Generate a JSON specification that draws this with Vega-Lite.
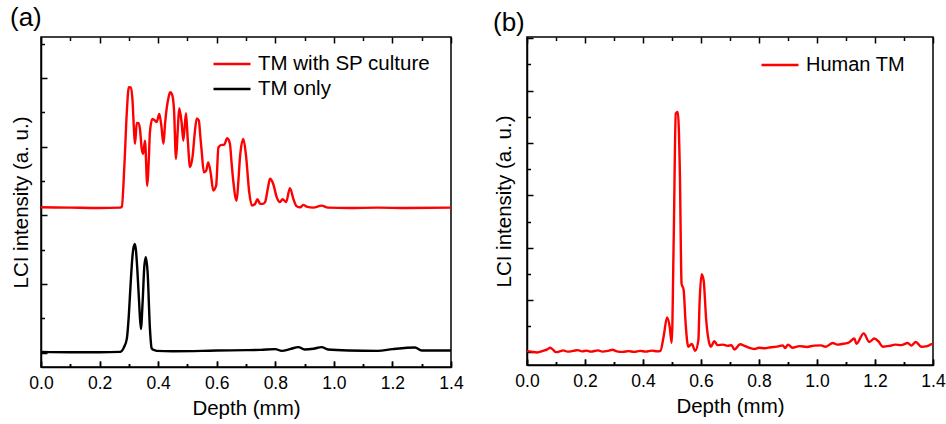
{
  "$schema": "https://vega.github.io/schema/vega-lite/v6.json",
  "background": "white",
  "padding": {"left": 9, "top": 4, "right": 5, "bottom": 5},
  "spacing": 28,
  "resolve": {"scale": {"color": "independent"}, "legend": {"color": "independent"}},
  "datasets": {
    "panelA": [
      {"depth": 0.0, "intensity": 4.23, "series": "TM with SP culture"},
      {"depth": 0.1, "intensity": 4.22, "series": "TM with SP culture"},
      {"depth": 0.2, "intensity": 4.21, "series": "TM with SP culture"},
      {"depth": 0.27, "intensity": 4.22, "series": "TM with SP culture"},
      {"depth": 0.276, "intensity": 4.25, "series": "TM with SP culture"},
      {"depth": 0.285, "intensity": 5.5, "series": "TM with SP culture"},
      {"depth": 0.293, "intensity": 7.0, "series": "TM with SP culture"},
      {"depth": 0.3, "intensity": 7.73, "series": "TM with SP culture"},
      {"depth": 0.306, "intensity": 7.72, "series": "TM with SP culture"},
      {"depth": 0.312, "intensity": 7.4, "series": "TM with SP culture"},
      {"depth": 0.318, "intensity": 6.4, "series": "TM with SP culture"},
      {"depth": 0.321, "intensity": 6.08, "series": "TM with SP culture"},
      {"depth": 0.327, "intensity": 6.69, "series": "TM with SP culture"},
      {"depth": 0.333, "intensity": 6.68, "series": "TM with SP culture"},
      {"depth": 0.338, "intensity": 6.5, "series": "TM with SP culture"},
      {"depth": 0.344, "intensity": 5.93, "series": "TM with SP culture"},
      {"depth": 0.349, "intensity": 5.79, "series": "TM with SP culture"},
      {"depth": 0.355, "intensity": 6.17, "series": "TM with SP culture"},
      {"depth": 0.363, "intensity": 4.86, "series": "TM with SP culture"},
      {"depth": 0.368, "intensity": 5.6, "series": "TM with SP culture"},
      {"depth": 0.372, "intensity": 6.42, "series": "TM with SP culture"},
      {"depth": 0.38, "intensity": 6.8, "series": "TM with SP culture"},
      {"depth": 0.389, "intensity": 6.76, "series": "TM with SP culture"},
      {"depth": 0.395, "intensity": 6.71, "series": "TM with SP culture"},
      {"depth": 0.404, "intensity": 6.95, "series": "TM with SP culture"},
      {"depth": 0.411, "intensity": 6.6, "series": "TM with SP culture"},
      {"depth": 0.418, "intensity": 6.08, "series": "TM with SP culture"},
      {"depth": 0.424, "intensity": 6.7, "series": "TM with SP culture"},
      {"depth": 0.429, "intensity": 7.1, "series": "TM with SP culture"},
      {"depth": 0.436, "intensity": 7.45, "series": "TM with SP culture"},
      {"depth": 0.441, "intensity": 7.58, "series": "TM with SP culture"},
      {"depth": 0.447, "intensity": 7.53, "series": "TM with SP culture"},
      {"depth": 0.454, "intensity": 7.1, "series": "TM with SP culture"},
      {"depth": 0.461, "intensity": 5.64, "series": "TM with SP culture"},
      {"depth": 0.467, "intensity": 6.5, "series": "TM with SP culture"},
      {"depth": 0.472, "intensity": 7.12, "series": "TM with SP culture"},
      {"depth": 0.48, "intensity": 6.71, "series": "TM with SP culture"},
      {"depth": 0.486, "intensity": 6.17, "series": "TM with SP culture"},
      {"depth": 0.495, "intensity": 6.97, "series": "TM with SP culture"},
      {"depth": 0.501, "intensity": 6.22, "series": "TM with SP culture"},
      {"depth": 0.509, "intensity": 5.4, "series": "TM with SP culture"},
      {"depth": 0.518, "intensity": 5.74, "series": "TM with SP culture"},
      {"depth": 0.525, "intensity": 6.4, "series": "TM with SP culture"},
      {"depth": 0.532, "intensity": 6.82, "series": "TM with SP culture"},
      {"depth": 0.539, "intensity": 6.76, "series": "TM with SP culture"},
      {"depth": 0.544, "intensity": 6.3, "series": "TM with SP culture"},
      {"depth": 0.549, "intensity": 5.83, "series": "TM with SP culture"},
      {"depth": 0.556, "intensity": 5.25, "series": "TM with SP culture"},
      {"depth": 0.564, "intensity": 5.3, "series": "TM with SP culture"},
      {"depth": 0.571, "intensity": 5.54, "series": "TM with SP culture"},
      {"depth": 0.58, "intensity": 5.2, "series": "TM with SP culture"},
      {"depth": 0.588, "intensity": 4.72, "series": "TM with SP culture"},
      {"depth": 0.598, "intensity": 4.86, "series": "TM with SP culture"},
      {"depth": 0.606, "intensity": 5.98, "series": "TM with SP culture"},
      {"depth": 0.617, "intensity": 6.05, "series": "TM with SP culture"},
      {"depth": 0.625, "intensity": 6.05, "series": "TM with SP culture"},
      {"depth": 0.636, "intensity": 6.24, "series": "TM with SP culture"},
      {"depth": 0.645, "intensity": 6.08, "series": "TM with SP culture"},
      {"depth": 0.651, "intensity": 5.5, "series": "TM with SP culture"},
      {"depth": 0.657, "intensity": 4.96, "series": "TM with SP culture"},
      {"depth": 0.668, "intensity": 4.42, "series": "TM with SP culture"},
      {"depth": 0.674, "intensity": 5.0, "series": "TM with SP culture"},
      {"depth": 0.68, "intensity": 5.74, "series": "TM with SP culture"},
      {"depth": 0.691, "intensity": 6.22, "series": "TM with SP culture"},
      {"depth": 0.7, "intensity": 5.74, "series": "TM with SP culture"},
      {"depth": 0.711, "intensity": 4.67, "series": "TM with SP culture"},
      {"depth": 0.72, "intensity": 4.28, "series": "TM with SP culture"},
      {"depth": 0.731, "intensity": 4.33, "series": "TM with SP culture"},
      {"depth": 0.739, "intensity": 4.47, "series": "TM with SP culture"},
      {"depth": 0.748, "intensity": 4.33, "series": "TM with SP culture"},
      {"depth": 0.757, "intensity": 4.33, "series": "TM with SP culture"},
      {"depth": 0.765, "intensity": 4.38, "series": "TM with SP culture"},
      {"depth": 0.775, "intensity": 4.8, "series": "TM with SP culture"},
      {"depth": 0.782, "intensity": 5.06, "series": "TM with SP culture"},
      {"depth": 0.793, "intensity": 4.91, "series": "TM with SP culture"},
      {"depth": 0.805, "intensity": 4.52, "series": "TM with SP culture"},
      {"depth": 0.816, "intensity": 4.38, "series": "TM with SP culture"},
      {"depth": 0.825, "intensity": 4.47, "series": "TM with SP culture"},
      {"depth": 0.837, "intensity": 4.38, "series": "TM with SP culture"},
      {"depth": 0.85, "intensity": 4.79, "series": "TM with SP culture"},
      {"depth": 0.862, "intensity": 4.47, "series": "TM with SP culture"},
      {"depth": 0.873, "intensity": 4.26, "series": "TM with SP culture"},
      {"depth": 0.885, "intensity": 4.23, "series": "TM with SP culture"},
      {"depth": 0.896, "intensity": 4.3, "series": "TM with SP culture"},
      {"depth": 0.907, "intensity": 4.25, "series": "TM with SP culture"},
      {"depth": 0.93, "intensity": 4.22, "series": "TM with SP culture"},
      {"depth": 0.958, "intensity": 4.28, "series": "TM with SP culture"},
      {"depth": 0.98, "intensity": 4.22, "series": "TM with SP culture"},
      {"depth": 1.05, "intensity": 4.21, "series": "TM with SP culture"},
      {"depth": 1.15, "intensity": 4.22, "series": "TM with SP culture"},
      {"depth": 1.25, "intensity": 4.21, "series": "TM with SP culture"},
      {"depth": 1.4, "intensity": 4.22, "series": "TM with SP culture"},
      {"depth": 0.0, "intensity": 0.02, "series": "TM only"},
      {"depth": 0.1, "intensity": 0.01, "series": "TM only"},
      {"depth": 0.2, "intensity": 0.01, "series": "TM only"},
      {"depth": 0.27, "intensity": 0.02, "series": "TM only"},
      {"depth": 0.283, "intensity": 0.15, "series": "TM only"},
      {"depth": 0.293, "intensity": 0.4, "series": "TM only"},
      {"depth": 0.3, "intensity": 1.1, "series": "TM only"},
      {"depth": 0.306, "intensity": 2.0, "series": "TM only"},
      {"depth": 0.313, "intensity": 2.87, "series": "TM only"},
      {"depth": 0.32, "intensity": 3.16, "series": "TM only"},
      {"depth": 0.324, "intensity": 3.0, "series": "TM only"},
      {"depth": 0.329, "intensity": 2.4, "series": "TM only"},
      {"depth": 0.335, "intensity": 1.47, "series": "TM only"},
      {"depth": 0.341, "intensity": 0.69, "series": "TM only"},
      {"depth": 0.347, "intensity": 1.47, "series": "TM only"},
      {"depth": 0.353, "intensity": 2.53, "series": "TM only"},
      {"depth": 0.358, "intensity": 2.78, "series": "TM only"},
      {"depth": 0.364, "intensity": 2.34, "series": "TM only"},
      {"depth": 0.372, "intensity": 0.69, "series": "TM only"},
      {"depth": 0.378, "intensity": 0.12, "series": "TM only"},
      {"depth": 0.384, "intensity": 0.08, "series": "TM only"},
      {"depth": 0.395, "intensity": 0.05, "series": "TM only"},
      {"depth": 0.45, "intensity": 0.04, "series": "TM only"},
      {"depth": 0.55, "intensity": 0.05, "series": "TM only"},
      {"depth": 0.6, "intensity": 0.06, "series": "TM only"},
      {"depth": 0.7, "intensity": 0.07, "series": "TM only"},
      {"depth": 0.75, "intensity": 0.08, "series": "TM only"},
      {"depth": 0.8, "intensity": 0.1, "series": "TM only"},
      {"depth": 0.822, "intensity": 0.05, "series": "TM only"},
      {"depth": 0.85, "intensity": 0.1, "series": "TM only"},
      {"depth": 0.879, "intensity": 0.16, "series": "TM only"},
      {"depth": 0.9, "intensity": 0.09, "series": "TM only"},
      {"depth": 0.93, "intensity": 0.11, "series": "TM only"},
      {"depth": 0.958, "intensity": 0.16, "series": "TM only"},
      {"depth": 0.98, "intensity": 0.09, "series": "TM only"},
      {"depth": 1.05, "intensity": 0.06, "series": "TM only"},
      {"depth": 1.15, "intensity": 0.05, "series": "TM only"},
      {"depth": 1.2, "intensity": 0.1, "series": "TM only"},
      {"depth": 1.277, "intensity": 0.15, "series": "TM only"},
      {"depth": 1.3, "intensity": 0.06, "series": "TM only"},
      {"depth": 1.4, "intensity": 0.06, "series": "TM only"}
    ],
    "panelB": [
      {"depth": 0.0, "intensity": 0.05, "series": "Human TM"},
      {"depth": 0.015, "intensity": 0.03, "series": "Human TM"},
      {"depth": 0.035, "intensity": 0.0, "series": "Human TM"},
      {"depth": 0.055, "intensity": 0.06, "series": "Human TM"},
      {"depth": 0.07, "intensity": 0.12, "series": "Human TM"},
      {"depth": 0.08, "intensity": 0.18, "series": "Human TM"},
      {"depth": 0.09, "intensity": 0.1, "series": "Human TM"},
      {"depth": 0.1, "intensity": 0.01, "series": "Human TM"},
      {"depth": 0.115, "intensity": 0.05, "series": "Human TM"},
      {"depth": 0.125, "intensity": 0.08, "series": "Human TM"},
      {"depth": 0.14, "intensity": 0.03, "series": "Human TM"},
      {"depth": 0.16, "intensity": 0.06, "series": "Human TM"},
      {"depth": 0.175, "intensity": 0.09, "series": "Human TM"},
      {"depth": 0.19, "intensity": 0.04, "series": "Human TM"},
      {"depth": 0.205, "intensity": 0.07, "series": "Human TM"},
      {"depth": 0.22, "intensity": 0.03, "series": "Human TM"},
      {"depth": 0.245, "intensity": 0.08, "series": "Human TM"},
      {"depth": 0.26, "intensity": 0.03, "series": "Human TM"},
      {"depth": 0.28, "intensity": 0.06, "series": "Human TM"},
      {"depth": 0.295, "intensity": 0.1, "series": "Human TM"},
      {"depth": 0.31, "intensity": 0.04, "series": "Human TM"},
      {"depth": 0.33, "intensity": 0.02, "series": "Human TM"},
      {"depth": 0.35, "intensity": 0.05, "series": "Human TM"},
      {"depth": 0.37, "intensity": 0.02, "series": "Human TM"},
      {"depth": 0.39, "intensity": 0.06, "series": "Human TM"},
      {"depth": 0.41, "intensity": 0.03, "series": "Human TM"},
      {"depth": 0.43, "intensity": 0.07, "series": "Human TM"},
      {"depth": 0.45, "intensity": 0.04, "series": "Human TM"},
      {"depth": 0.46, "intensity": 0.06, "series": "Human TM"},
      {"depth": 0.471, "intensity": 0.6, "series": "Human TM"},
      {"depth": 0.483, "intensity": 1.34, "series": "Human TM"},
      {"depth": 0.492, "intensity": 0.98, "series": "Human TM"},
      {"depth": 0.499, "intensity": 0.37, "series": "Human TM"},
      {"depth": 0.506, "intensity": 4.41, "series": "Human TM"},
      {"depth": 0.513, "intensity": 9.12, "series": "Human TM"},
      {"depth": 0.52, "intensity": 9.19, "series": "Human TM"},
      {"depth": 0.527, "intensity": 6.96, "series": "Human TM"},
      {"depth": 0.533, "intensity": 2.63, "series": "Human TM"},
      {"depth": 0.54, "intensity": 2.4, "series": "Human TM"},
      {"depth": 0.547, "intensity": 1.11, "series": "Human TM"},
      {"depth": 0.556, "intensity": 0.22, "series": "Human TM"},
      {"depth": 0.568, "intensity": 0.32, "series": "Human TM"},
      {"depth": 0.58, "intensity": 0.06, "series": "Human TM"},
      {"depth": 0.591, "intensity": 0.47, "series": "Human TM"},
      {"depth": 0.595, "intensity": 1.87, "series": "Human TM"},
      {"depth": 0.602, "intensity": 2.99, "series": "Human TM"},
      {"depth": 0.609, "intensity": 2.76, "series": "Human TM"},
      {"depth": 0.618, "intensity": 1.23, "series": "Human TM"},
      {"depth": 0.628, "intensity": 0.37, "series": "Human TM"},
      {"depth": 0.634, "intensity": 0.22, "series": "Human TM"},
      {"depth": 0.646, "intensity": 0.43, "series": "Human TM"},
      {"depth": 0.657, "intensity": 0.28, "series": "Human TM"},
      {"depth": 0.675, "intensity": 0.3, "series": "Human TM"},
      {"depth": 0.692, "intensity": 0.25, "series": "Human TM"},
      {"depth": 0.705, "intensity": 0.28, "series": "Human TM"},
      {"depth": 0.715, "intensity": 0.11, "series": "Human TM"},
      {"depth": 0.735, "intensity": 0.31, "series": "Human TM"},
      {"depth": 0.75, "intensity": 0.25, "series": "Human TM"},
      {"depth": 0.761, "intensity": 0.2, "series": "Human TM"},
      {"depth": 0.784, "intensity": 0.13, "series": "Human TM"},
      {"depth": 0.8, "intensity": 0.18, "series": "Human TM"},
      {"depth": 0.82, "intensity": 0.16, "series": "Human TM"},
      {"depth": 0.841, "intensity": 0.2, "series": "Human TM"},
      {"depth": 0.86, "intensity": 0.22, "series": "Human TM"},
      {"depth": 0.882, "intensity": 0.27, "series": "Human TM"},
      {"depth": 0.89, "intensity": 0.17, "series": "Human TM"},
      {"depth": 0.9, "intensity": 0.3, "series": "Human TM"},
      {"depth": 0.915, "intensity": 0.18, "series": "Human TM"},
      {"depth": 0.94, "intensity": 0.24, "series": "Human TM"},
      {"depth": 0.965, "intensity": 0.21, "series": "Human TM"},
      {"depth": 0.99, "intensity": 0.26, "series": "Human TM"},
      {"depth": 1.014, "intensity": 0.27, "series": "Human TM"},
      {"depth": 1.03, "intensity": 0.22, "series": "Human TM"},
      {"depth": 1.054, "intensity": 0.36, "series": "Human TM"},
      {"depth": 1.07, "intensity": 0.3, "series": "Human TM"},
      {"depth": 1.09, "intensity": 0.33, "series": "Human TM"},
      {"depth": 1.11, "intensity": 0.38, "series": "Human TM"},
      {"depth": 1.129, "intensity": 0.53, "series": "Human TM"},
      {"depth": 1.136, "intensity": 0.33, "series": "Human TM"},
      {"depth": 1.161, "intensity": 0.73, "series": "Human TM"},
      {"depth": 1.18, "intensity": 0.4, "series": "Human TM"},
      {"depth": 1.198, "intensity": 0.53, "series": "Human TM"},
      {"depth": 1.212, "intensity": 0.42, "series": "Human TM"},
      {"depth": 1.227, "intensity": 0.22, "series": "Human TM"},
      {"depth": 1.25, "intensity": 0.25, "series": "Human TM"},
      {"depth": 1.27, "intensity": 0.3, "series": "Human TM"},
      {"depth": 1.29, "intensity": 0.28, "series": "Human TM"},
      {"depth": 1.313, "intensity": 0.36, "series": "Human TM"},
      {"depth": 1.325, "intensity": 0.26, "series": "Human TM"},
      {"depth": 1.341, "intensity": 0.4, "series": "Human TM"},
      {"depth": 1.359, "intensity": 0.22, "series": "Human TM"},
      {"depth": 1.38, "intensity": 0.24, "series": "Human TM"},
      {"depth": 1.393, "intensity": 0.31, "series": "Human TM"},
      {"depth": 1.4, "intensity": 0.33, "series": "Human TM"}
    ]
  },
  "hconcat": [
    {
      "width": 410,
      "height": 330,
      "title": {"text": "(a)", "anchor": "start", "frame": "group", "dx": -31, "offset": 6, "fontSize": 26, "fontWeight": "normal", "font": "Liberation Sans", "color": "black"},
      "data": {"name": "panelA"},
      "mark": {"type": "line", "strokeWidth": 2.4, "interpolate": "monotone"},
      "encoding": {
        "x": {"field": "depth", "type": "quantitative",
          "scale": {"domain": [0, 1.4], "nice": false, "zero": false},
          "axis": {"orient": "bottom", "title": "Depth (mm)", "ticks": true,
            "values": [0, 0.1, 0.2, 0.3, 0.4, 0.5, 0.6, 0.7, 0.8, 0.9, 1.0, 1.1, 1.2, 1.3, 1.4],
            "format": ".1f", "labelExpr": "round(datum.value*10) % 2 == 0 ? datum.label : ''",
            "tickSize": {"condition": {"test": "round(datum.value*10) % 2 == 0", "value": -6}, "value": -3.5},
            "grid": true, "gridColor": "black", "gridWidth": 1.5, "gridOpacity": 1,
            "gridDash": {"condition": {"test": "round(datum.value*10) % 2 == 0", "value": [6, 318, 6, 400]}, "value": [3.5, 323, 3.5, 400]},
            "labelPadding": 13.4, "titlePadding": 4}},
        "y": {"field": "intensity", "type": "quantitative",
          "scale": {"domain": [-0.42, 9.19], "nice": false, "zero": false},
          "axis": {"orient": "left", "title": "LCI intensity (a. u.)", "labels": false, "ticks": true, "grid": false,
            "values": [0, 1, 2, 3, 4, 5, 6, 7, 8, 9],
            "tickSize": {"condition": {"test": "datum.value % 2 == 0", "value": -6}, "value": -3.5},
            "titlePadding": 9}},
        "color": {"field": "series", "type": "nominal",
          "scale": {"domain": ["TM with SP culture", "TM only"], "range": ["#ff0000", "#000000"]},
          "legend": {"orient": "none", "legendX": 171, "legendY": 14.5, "title": null, "clipHeight": 25, "rowPadding": 0}}
      }
    },
    {
      "width": 406,
      "height": 328,
      "title": {"text": "(b)", "anchor": "start", "frame": "group", "dx": -34, "offset": 1, "fontSize": 26, "fontWeight": "normal", "font": "Liberation Sans", "color": "black"},
      "data": {"name": "panelB"},
      "mark": {"type": "line", "strokeWidth": 2.4, "interpolate": "monotone"},
      "encoding": {
        "x": {"field": "depth", "type": "quantitative",
          "scale": {"domain": [0, 1.4], "nice": false, "zero": false},
          "axis": {"orient": "bottom", "title": "Depth (mm)", "ticks": true,
            "values": [0, 0.1, 0.2, 0.3, 0.4, 0.5, 0.6, 0.7, 0.8, 0.9, 1.0, 1.1, 1.2, 1.3, 1.4],
            "format": ".1f", "labelExpr": "round(datum.value*10) % 2 == 0 ? datum.label : ''",
            "tickSize": {"condition": {"test": "round(datum.value*10) % 2 == 0", "value": -6}, "value": -3.5},
            "grid": true, "gridColor": "black", "gridWidth": 1.5, "gridOpacity": 1,
            "gridDash": {"condition": {"test": "round(datum.value*10) % 2 == 0", "value": [6, 316, 6, 400]}, "value": [3.5, 321, 3.5, 400]},
            "labelPadding": 13.4, "titlePadding": 4}},
        "y": {"field": "intensity", "type": "quantitative",
          "scale": {"domain": [-0.48, 12.05], "nice": false, "zero": false},
          "axis": {"orient": "left", "title": "LCI intensity (a. u.)", "labels": false, "ticks": true, "grid": false,
            "values": [0, 1, 2, 3, 4, 5, 6, 7, 8, 9, 10, 11, 12],
            "tickSize": {"condition": {"test": "datum.value % 2 == 0", "value": -6}, "value": -3.5},
            "titlePadding": 12}},
        "color": {"field": "series", "type": "nominal",
          "scale": {"domain": ["Human TM"], "range": ["#ff0000"]},
          "legend": {"orient": "none", "legendX": 233, "legendY": 8, "title": null, "labelFontSize": 20}}
      }
    }
  ],
  "config": {
    "font": "Liberation Sans",
    "view": {"stroke": "black", "strokeWidth": 1.5},
    "axis": {
      "domain": true, "domainColor": "black", "domainWidth": 1.5,
      "tickColor": "black", "tickWidth": 1.5,
      "labelFont": "Liberation Sans", "labelFontSize": 17.5, "labelColor": "black",
      "labelFlush": false, "labelOverlap": false,
      "titleFont": "Liberation Sans", "titleFontSize": 20.5, "titleFontWeight": "normal", "titleColor": "black"
    },
    "legend": {
      "symbolType": "stroke", "symbolSize": 1369, "symbolStrokeWidth": 2.4,
      "labelFont": "Liberation Sans", "labelFontSize": 20.5, "labelColor": "black",
      "labelOffset": 6, "rowPadding": 4, "padding": 0, "labelLimit": 400
    }
  }
}
